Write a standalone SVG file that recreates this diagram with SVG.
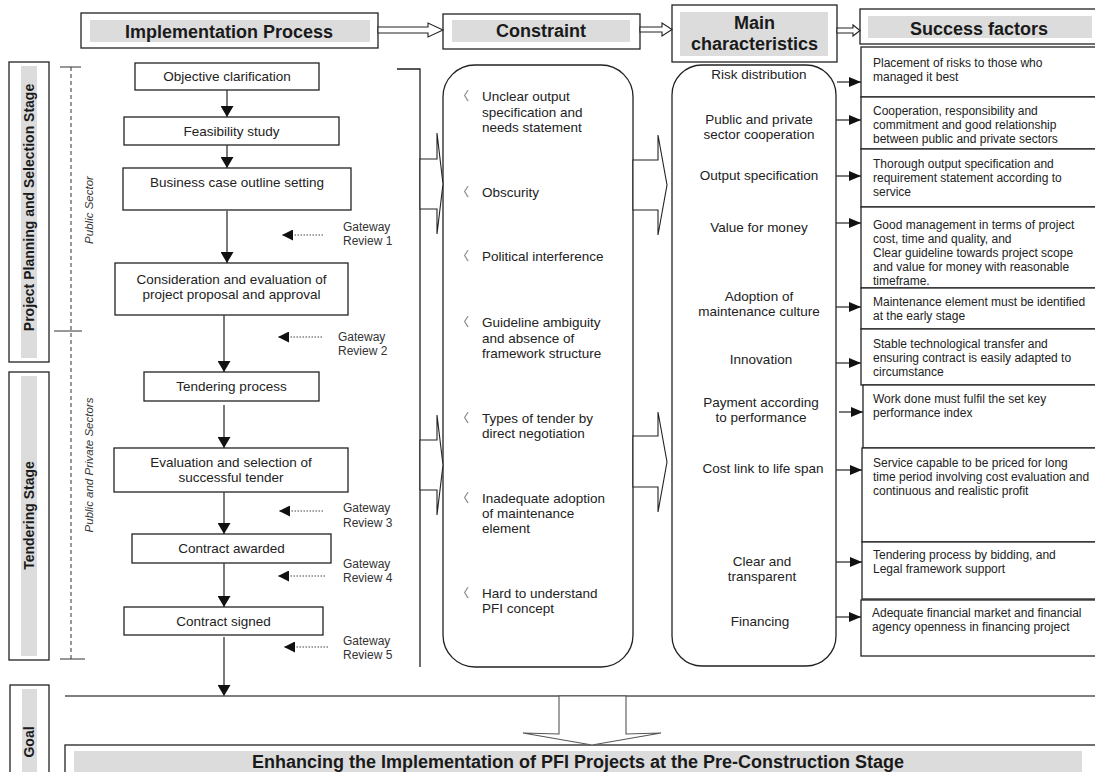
<svg xmlns="http://www.w3.org/2000/svg" width="1095" height="772" viewBox="0 0 1095 772">
<defs>
<style>
.bx{fill:#fff;stroke:#222;stroke-width:1.3}
.gr{fill:#dcdcdc}
.hd{font-family:"Liberation Sans",Arial,sans-serif;font-weight:bold;font-size:18px;fill:#1a1a1a;text-anchor:middle}
.st{font-family:"Liberation Sans",Arial,sans-serif;font-weight:bold;font-size:14px;fill:#1a1a1a;text-anchor:middle}
.pr{font-family:"Liberation Sans",Arial,sans-serif;font-size:13.5px;fill:#222;text-anchor:middle}
.sec{font-family:"Liberation Sans",Arial,sans-serif;font-style:italic;font-size:11.5px;fill:#333;text-anchor:middle}
.gw{font-family:"Liberation Sans",Arial,sans-serif;font-size:12px;fill:#333}
.it{font-family:"Liberation Sans",Arial,sans-serif;font-size:13.5px;fill:#222}
.bl{font-family:"Noto Sans CJK SC",sans-serif;font-size:12px;fill:#666}
.mc{font-family:"Liberation Sans",Arial,sans-serif;font-size:13.5px;fill:#222;text-anchor:middle}
.sf{font-family:"Liberation Sans",Arial,sans-serif;font-size:12px;fill:#222}
.ln{fill:none;stroke:#333;stroke-width:1.3}
.dl{fill:none;stroke:#444;stroke-width:1.1;stroke-dasharray:1.5 1.5}
.hol{fill:#fff;stroke:#222;stroke-width:1.1}
</style>
<marker id="ahv" viewBox="0 0 11 13" refX="11" refY="6.5" markerWidth="11" markerHeight="13" markerUnits="userSpaceOnUse" orient="auto"><path d="M0,0 L11,6.5 L0,13 z" fill="#111"/></marker>
<marker id="ahg" viewBox="0 0 11 11" refX="11" refY="5.5" markerWidth="11" markerHeight="11" markerUnits="userSpaceOnUse" orient="auto"><path d="M0,0 L11,5.5 L0,11 z" fill="#111"/></marker>
<marker id="ahs" viewBox="0 0 12 10" refX="12" refY="5" markerWidth="12" markerHeight="10" markerUnits="userSpaceOnUse" orient="auto"><path d="M0,0 L12,5 L0,10 z" fill="#111"/></marker>
</defs>
<rect width="1095" height="772" fill="#fff"/>

<g id="header-implementation">
<rect class="bx" x="81" y="13" width="297" height="35"/>
<rect class="gr" x="90" y="20" width="280" height="22"/>
<text class="hd" x="229" y="37.5">Implementation Process</text>
</g>
<g id="header-constraint">
<rect class="bx" x="443" y="14" width="197" height="35"/>
<rect class="gr" x="452" y="20" width="178" height="22"/>
<text class="hd" x="541" y="37">Constraint</text>
</g>
<g id="header-main">
<rect class="bx" x="672" y="5" width="165" height="57"/>
<rect class="gr" x="680" y="12" width="148" height="44"/>
<text class="hd" x="754.5" y="29">Main</text>
<text class="hd" x="754.5" y="50">characteristics</text>
</g>
<g id="header-success">
<rect class="bx" x="860" y="9" width="236" height="35"/>
<rect class="gr" x="868" y="16" width="224" height="22"/>
<text class="hd" x="979" y="35">Success factors</text>
</g>

<g id="stage-planning">
<rect class="bx" x="9" y="62" width="40" height="300"/>
<rect class="gr" x="21" y="66" width="16" height="292"/>
<text class="st" transform="translate(34,207.5) rotate(-90)">Project Planning and Selection Stage</text>
</g>
<g id="stage-tendering">
<rect class="bx" x="9" y="372" width="40" height="288"/>
<rect class="gr" x="21" y="376" width="16" height="280"/>
<text class="st" transform="translate(34,515.5) rotate(-90)">Tendering Stage</text>
</g>
<g id="stage-goal">
<rect class="bx" x="10" y="685" width="39" height="100"/>
<rect class="gr" x="22" y="689" width="15" height="100"/>
<text class="st" transform="translate(34,742) rotate(-90)">Goal</text>
</g>

<g id="sectors">
<path d="M71,67 V659" fill="none" stroke="#333" stroke-width="1" stroke-dasharray="4 3"/>
<path d="M60,67 H81 M54,331 H82 M60,659 H85" fill="none" stroke="#333" stroke-width="1.2"/>
<text class="sec" transform="translate(93,210) rotate(-90)">Public Sector</text>
<text class="sec" transform="translate(93,465) rotate(-90)">Public and Private Sectors</text>
</g>

<g id="p-objective"><rect class="bx" x="135" y="63" width="184" height="27"/><text class="pr" x="227" y="81">Objective clarification</text></g>
<g id="p-feasibility"><rect class="bx" x="124" y="117" width="215" height="28"/><text class="pr" x="231.5" y="136">Feasibility study</text></g>
<g id="p-business"><rect class="bx" x="123" y="168" width="228" height="42"/><text class="pr" x="237" y="187">Business case outline setting</text></g>
<g id="p-consideration"><rect class="bx" x="115" y="263" width="233" height="52"/><text class="pr" x="231.5" y="284">Consideration and evaluation of</text><text class="pr" x="231.5" y="299">project proposal and approval</text></g>
<g id="p-tendering"><rect class="bx" x="144" y="372" width="175" height="29"/><text class="pr" x="231.5" y="391">Tendering process</text></g>
<g id="p-evaluation"><rect class="bx" x="114" y="448" width="234" height="44"/><text class="pr" x="231" y="467">Evaluation and selection of</text><text class="pr" x="231" y="482">successful tender</text></g>
<g id="p-awarded"><rect class="bx" x="132" y="534" width="199" height="29"/><text class="pr" x="231.5" y="553">Contract awarded</text></g>
<g id="p-signed"><rect class="bx" x="124" y="607" width="199" height="28"/><text class="pr" x="223.5" y="626">Contract signed</text></g>

<g id="gateways">
<text class="gw" x="343" y="231">Gateway</text><text class="gw" x="343" y="245">Review 1</text>
<text class="gw" x="338" y="341">Gateway</text><text class="gw" x="338" y="355">Review 2</text>
<text class="gw" x="343" y="512">Gateway</text><text class="gw" x="343" y="527">Review 3</text>
<text class="gw" x="343" y="568">Gateway</text><text class="gw" x="343" y="582">Review 4</text>
<text class="gw" x="343" y="645">Gateway</text><text class="gw" x="343" y="659">Review 5</text>
</g>

<g id="constraint-box">
<rect class="bx" x="443" y="65" width="190" height="602" rx="32" ry="32"/>
<text class="bl" x="457" y="101">〈</text>
<text class="it" x="482" y="101">Unclear output</text><text class="it" x="482" y="116.5">specification and</text><text class="it" x="482" y="132">needs statement</text>
<text class="bl" x="457" y="197">〈</text>
<text class="it" x="482" y="197">Obscurity</text>
<text class="bl" x="457" y="261">〈</text>
<text class="it" x="482" y="261">Political interference</text>
<text class="bl" x="457" y="327">〈</text>
<text class="it" x="482" y="327">Guideline ambiguity</text><text class="it" x="482" y="342.5">and absence of</text><text class="it" x="482" y="358">framework structure</text>
<text class="bl" x="457" y="423">〈</text>
<text class="it" x="482" y="423">Types of tender by</text><text class="it" x="482" y="438">direct negotiation</text>
<text class="bl" x="457" y="503">〈</text>
<text class="it" x="482" y="503">Inadequate adoption</text><text class="it" x="482" y="518">of maintenance</text><text class="it" x="482" y="533">element</text>
<text class="bl" x="457" y="598">〈</text>
<text class="it" x="482" y="598">Hard to understand</text><text class="it" x="482" y="613">PFI concept</text>
</g>

<g id="main-box">
<rect class="bx" x="672" y="65" width="164" height="601" rx="30" ry="30"/>
<text class="mc" x="759" y="79">Risk distribution</text>
<text class="mc" x="759" y="124">Public and private</text><text class="mc" x="759" y="139">sector cooperation</text>
<text class="mc" x="759" y="180">Output specification</text>
<text class="mc" x="759" y="232">Value for money</text>
<text class="mc" x="759" y="301">Adoption of</text><text class="mc" x="759" y="316">maintenance culture</text>
<text class="mc" x="761" y="364">Innovation</text>
<text class="mc" x="761" y="407">Payment according</text><text class="mc" x="761" y="422">to performance</text>
<text class="mc" x="763" y="473">Cost link to life span</text>
<text class="mc" x="762" y="566">Clear and</text><text class="mc" x="762" y="581">transparent</text>
<text class="mc" x="760" y="626">Financing</text>
</g>

<g id="success-rows">
<rect class="bx" x="861" y="47" width="235" height="50"/>
<text class="sf" x="873" y="67">Placement of risks to those who</text><text class="sf" x="873" y="81">managed it best</text>
<rect class="bx" x="861" y="97" width="235" height="52"/>
<text class="sf" x="873" y="115">Cooperation, responsibility and</text><text class="sf" x="873" y="129">commitment and good relationship</text><text class="sf" x="873" y="143">between public and private sectors</text>
<rect class="bx" x="861" y="149" width="235" height="58"/>
<text class="sf" x="873" y="168">Thorough output specification and</text><text class="sf" x="873" y="182">requirement statement according to</text><text class="sf" x="873" y="196">service</text>
<rect class="bx" x="861" y="207" width="235" height="81"/>
<text class="sf" x="873" y="229">Good management in terms of project</text><text class="sf" x="873" y="243">cost, time and quality, and</text><text class="sf" x="873" y="257">Clear guideline towards project scope</text><text class="sf" x="873" y="271">and value for money with reasonable</text><text class="sf" x="873" y="285">timeframe.</text>
<rect class="bx" x="861" y="288" width="235" height="41"/>
<text class="sf" x="873" y="306">Maintenance element must be identified</text><text class="sf" x="873" y="320">at the early stage</text>
<rect class="bx" x="861" y="329" width="235" height="56"/>
<text class="sf" x="873" y="348">Stable technological transfer and</text><text class="sf" x="873" y="362">ensuring contract is easily adapted to</text><text class="sf" x="873" y="376">circumstance</text>
<rect class="bx" x="863" y="385" width="233" height="63"/>
<text class="sf" x="873" y="403">Work done must fulfil the set key</text><text class="sf" x="873" y="417">performance index</text>
<rect class="bx" x="862" y="448" width="234" height="94"/>
<text class="sf" x="873" y="467">Service capable to be priced for long</text><text class="sf" x="873" y="481">time period involving cost evaluation and</text><text class="sf" x="873" y="495">continuous and realistic profit</text>
<rect class="bx" x="862" y="542" width="234" height="57"/>
<text class="sf" x="873" y="559">Tendering process by bidding, and</text><text class="sf" x="873" y="573">Legal framework support</text>
<rect class="bx" x="861" y="600" width="235" height="56"/>
<text class="sf" x="872" y="617">Adequate financial market and financial</text><text class="sf" x="872" y="631">agency openness in financing project</text>
</g>

<g id="goal">
<rect class="bx" x="65" y="745" width="1040" height="50"/>
<rect class="gr" x="74" y="751" width="1008" height="30"/>
<text class="hd" x="578" y="768">Enhancing the Implementation of PFI Projects at the Pre-Construction Stage</text>
</g>

<g id="connectors">
<polygon class="hol" points="378,27 428,27 428,23 443,30 428,37 428,33 378,33"/>
<polygon class="hol" points="640,27 662,27 662,23 672,29.5 662,36 662,32 640,32"/>
<polygon class="hol" points="837,28 853,28 853,25 860,30.5 853,36 853,33 837,33"/>
<path class="ln" d="M227,90 V117" marker-end="url(#ahv)"/>
<path class="ln" d="M227,145 V168" marker-end="url(#ahv)"/>
<path class="ln" d="M227,211 V263" marker-end="url(#ahv)"/>
<path class="ln" d="M224,315 V372" marker-end="url(#ahv)"/>
<path class="ln" d="M224,405 V448" marker-end="url(#ahv)"/>
<path class="ln" d="M224,492 V534" marker-end="url(#ahv)"/>
<path class="ln" d="M224,563 V607" marker-end="url(#ahv)"/>
<path class="ln" d="M224,637 V696" marker-end="url(#ahv)"/>
<path class="dl" d="M323,235 H282" marker-end="url(#ahg)"/>
<path class="dl" d="M322,337 H278" marker-end="url(#ahg)"/>
<path class="dl" d="M323,511 H279" marker-end="url(#ahg)"/>
<path class="dl" d="M325,576 H278" marker-end="url(#ahg)"/>
<path class="dl" d="M328,647 H284" marker-end="url(#ahg)"/>
<path d="M397,69 H420 V667" fill="none" stroke="#222" stroke-width="1.3"/>
<polygon class="hol" points="420,159 437,159 437,133 443,184 437,234 437,209 420,209"/>
<polygon class="hol" points="420,440 437,440 437,415 443,465 437,515 437,490 420,490"/>
<polygon class="hol" points="633,160 658,160 658,135 667,185 658,235 658,210 633,210"/>
<polygon class="hol" points="633,436 658,436 658,412 667,462 658,512 658,487 633,487"/>
<path class="ln" d="M837,82 H861" marker-end="url(#ahs)"/>
<path class="ln" d="M836,120 H861" marker-end="url(#ahs)"/>
<path class="ln" d="M836,176 H861" marker-end="url(#ahs)"/>
<path class="ln" d="M836,223 H861" marker-end="url(#ahs)"/>
<path class="ln" d="M836,307 H861" marker-end="url(#ahs)"/>
<path class="ln" d="M836,363 H861" marker-end="url(#ahs)"/>
<path class="ln" d="M839,412 H863" marker-end="url(#ahs)"/>
<path class="ln" d="M836,470 H862" marker-end="url(#ahs)"/>
<path class="ln" d="M836,562 H862" marker-end="url(#ahs)"/>
<path class="ln" d="M836,617 H861" marker-end="url(#ahs)"/>
<path d="M65,696 H1095" fill="none" stroke="#555" stroke-width="1.3"/>
<polygon class="hol" points="559,696 626,696 626,734 661,733 592,745 523,733 559,734" style="stroke:#555"/>
</g>
</svg>
